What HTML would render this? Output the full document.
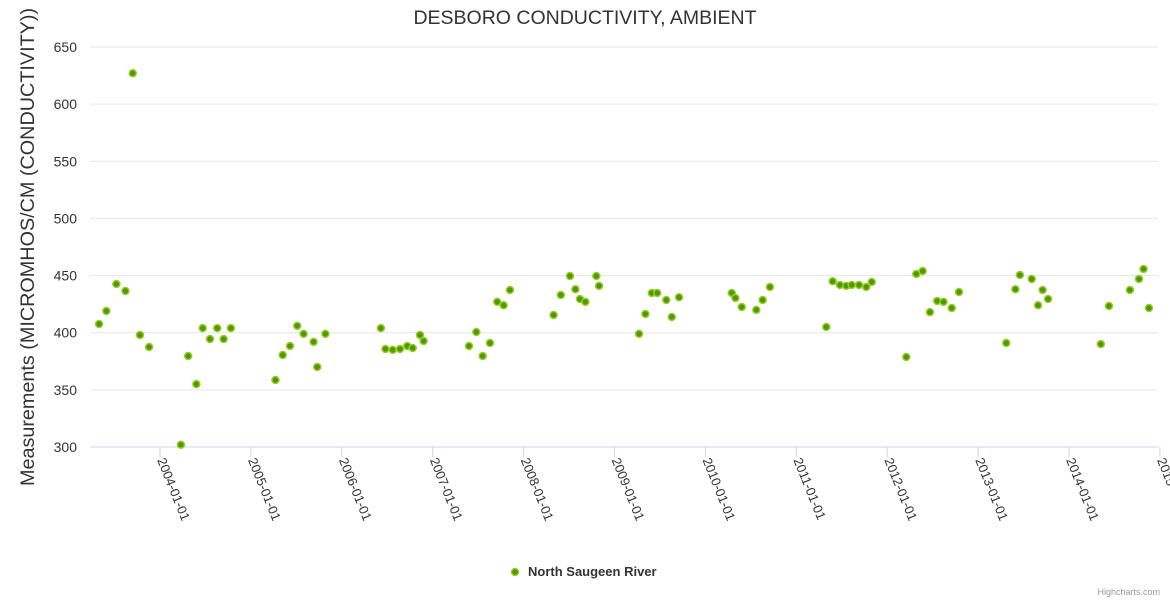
<!DOCTYPE html>
<html><head><meta charset="utf-8"><style>
body{margin:0;background:#fff;font-family:"Liberation Sans",sans-serif;}
svg text{font-family:"Liberation Sans",sans-serif;}
</style></head><body>
<svg id="chart" width="1170" height="600" xmlns="http://www.w3.org/2000/svg">
<rect width="1170" height="600" fill="#fff"/>
<text x="585" y="24" text-anchor="middle" font-size="19.5" fill="#333">DESBORO CONDUCTIVITY, AMBIENT</text>
<g id="grid"></g><g id="xaxis"></g><g id="yaxis"></g><g id="points"></g>
<text transform="translate(34,247) rotate(-90)" text-anchor="middle" font-size="19.8" fill="#333">Measurements (MICROMHOS/CM (CONDUCTIVITY))</text>
<g>
<circle cx="515" cy="572" r="3.5" fill="#4d9900" stroke="#9ccc2c" stroke-width="1.5"/>
<text x="528" y="576" font-size="13" font-weight="bold" fill="#333">North Saugeen River</text>
</g>
<text x="1160" y="595" text-anchor="end" font-size="9" fill="#999">Highcharts.com</text>
</svg>
<script>
const years=[2003.33,2003.41,2003.52,2003.62,2003.70,2003.78,2003.88,2004.23,2004.31,2004.40,2004.47,2004.55,2004.63,2004.70,2004.78,
2005.27,2005.35,2005.43,2005.51,2005.58,2005.69,2005.73,2005.82,
2006.43,2006.48,2006.56,2006.64,2006.72,2006.78,2006.86,2006.90,
2007.40,2007.48,2007.55,2007.63,2007.71,2007.78,2007.85,
2008.33,2008.41,2008.51,2008.57,2008.62,2008.68,2008.80,2008.83,
2009.27,2009.34,2009.41,2009.47,2009.57,2009.63,2009.71,
2010.29,2010.33,2010.40,2010.56,2010.63,2010.71,
2011.33,2011.40,2011.48,2011.55,2011.61,2011.69,2011.77,2011.83,
2012.21,2012.32,2012.39,2012.47,2012.55,2012.62,2012.71,2012.79,
2013.31,2013.41,2013.46,2013.59,2013.66,2013.71,2013.77,
2014.35,2014.44,2014.67,2014.77,2014.82,2014.88];
const values=[407.6,419,442.6,436.5,627,398,387.5,302,379.6,355,404,394.5,404,394.5,404,
358.6,380.5,388.4,406,399,392,370,399,
404,385.8,385,385.8,388.4,386.6,398,392.8,
388.4,400.6,379.6,391,427,424,437.4,
415.5,433,449.6,438,429.5,427,449.6,441,
399,416.4,434.8,434.8,428.6,413.8,431,
434.8,430.4,422.5,420,428.6,440,
405,445,441.8,441,441.8,441.8,440,444.4,
378.8,451.4,454,418,427.8,427,421.6,435.6,
391,438,450.5,447,424,437.4,429.5,
390,423.4,437.4,447,455.8,421.6];
const yTicks=[300,350,400,450,500,550,600,650];
const xTickYears=[2004,2005,2006,2007,2008,2009,2010,2011,2012,2013,2014,2015];
const NS="http://www.w3.org/2000/svg";
function X(y){return 160+(y-2004)*90.9;}
function Y(v){return 447-(v-300)*(400/350);}
function mk(tag,attrs,parent){const e=document.createElementNS(NS,tag);for(const k in attrs)e.setAttribute(k,attrs[k]);parent.appendChild(e);return e;}
const grid=document.getElementById('grid'),ya=document.getElementById('yaxis'),xa=document.getElementById('xaxis'),pts=document.getElementById('points');
yTicks.forEach(t=>{
 const l=mk('line',{x1:90,x2:1158,y1:Y(t),y2:Y(t),stroke:t===300?'#ccd6eb':'#e6e6e6','stroke-width':1},grid);
 
 
 const tx=mk('text',{x:77,y:Y(t)+5,'text-anchor':'end','font-size':14,fill:'#333'},ya);
 tx.textContent=t;
 
 
});
xTickYears.forEach(yr=>{
 const x=X(yr);
 const l=mk('line',{x1:x,x2:x,y1:447,y2:457,stroke:'#ccd6eb'},xa);
 
 
 const tx=mk('text',{transform:`translate(${x-3},460) rotate(68)`,'font-size':13,fill:'#333'},xa);
 tx.textContent=yr+'-01-01';
 
 
});
years.forEach((yr,i)=>{
 const c=mk('circle',{cx:X(yr),cy:Y(values[i]),r:3.5,fill:'#4d9900',stroke:'#9ccc2c','stroke-width':1.5},pts);
 
 
});
</script>
</body></html>
